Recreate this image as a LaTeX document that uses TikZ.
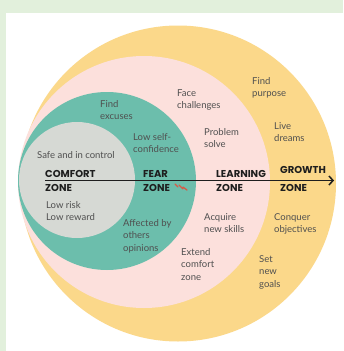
\documentclass[tikz,border=0pt]{standalone}
\usepackage{fontspec}
\setmainfont{Lato}
\newfontfamily\titlefont{Poppins}
\usepackage{tikz}
\usetikzlibrary{arrows.meta,positioning}
\definecolor{bggreen}{RGB}{226,240,220}
\definecolor{zoneyellow}{RGB}{251,216,138}
\definecolor{zonepink}{RGB}{252,224,220}
\definecolor{zoneteal}{RGB}{108,190,172}
\definecolor{zonegray}{RGB}{214,217,212}
\definecolor{textgray}{RGB}{80,80,80}
\definecolor{titleblack}{RGB}{30,30,30}
\definecolor{fearred}{RGB}{215,90,70}
\tikzset{
  blurb/.style={anchor=base west,align=left,inner sep=0pt,text=textgray,
    font=\fontsize{9.5}{12.5}\selectfont},
  zonename/.style={anchor=base west,align=left,inner sep=0pt,text=titleblack,
    font=\titlefont\bfseries\fontsize{10}{13.5}\selectfont}
}

\begin{document}
\begin{tikzpicture}[x=1pt,y=-1pt]
\useasboundingbox (0,0) rectangle (343,351);
\fill[bggreen] (0,0) rectangle (343,351);
\fill[white] (6,13) rectangle (343,351);
\fill[zoneyellow] (178,183.5) circle (158);
\fill[zonepink] (144,182) circle (126);
\fill[zoneteal] (107,181) circle (89);
\fill[zonegray] (77,180) circle (58);

\node[blurb] (safe) at (37,158) {Safe and in control};
\node[blurb] (lowrisk) at (46,220.5) {Low risk\\Low reward};
\node[blurb] (excuses) at (100,119.5) {Find\\excuses};
\node[blurb] (confidence) at (133,152.5) {Low self-\\confidence};
\node[blurb] (affected) at (123,251) {Affected by\\others\\opinions};
\node[blurb] (challenges) at (177,108.5) {Face\\challenges};
\node[blurb] (problem) at (204,147.5) {Problem\\solve};
\node[blurb] (acquire) at (204,232.5) {Acquire\\new skills};
\node[blurb] (extend) at (181,280) {Extend\\comfort\\zone};
\node[blurb] (purpose) at (252,96.5) {Find\\purpose};
\node[blurb] (dreams) at (274,141.5) {Live\\dreams};
\node[blurb] (conquer) at (274,232.5) {Conquer\\objectives};
\node[blurb] (goals) at (259,287) {Set\\new\\goals};

\node[zonename] (comfort) at (45,191) {COMFORT\\ZONE};
\node[zonename] (fear) at (143,191) {FEAR\\ZONE};
\node[zonename] (learning) at (216,191) {LEARNING\\ZONE};
\node[zonename] (growth) at (280,191) {GROWTH\\[4pt]ZONE};

\draw[fearred,line width=1.3pt,line cap=round]
  (175,184) -- (178,187) (179,185) -- (183,189) (183,187) -- (187,190);

\coordinate (arrowstart) at (45,180.5);
\coordinate (arrowend) at (334,180.5);
\draw[-{Straight Barb[length=4pt,width=9pt]},line width=1.5pt,titleblack]
  (arrowstart) -- (arrowend);
\end{tikzpicture}
\end{document}
